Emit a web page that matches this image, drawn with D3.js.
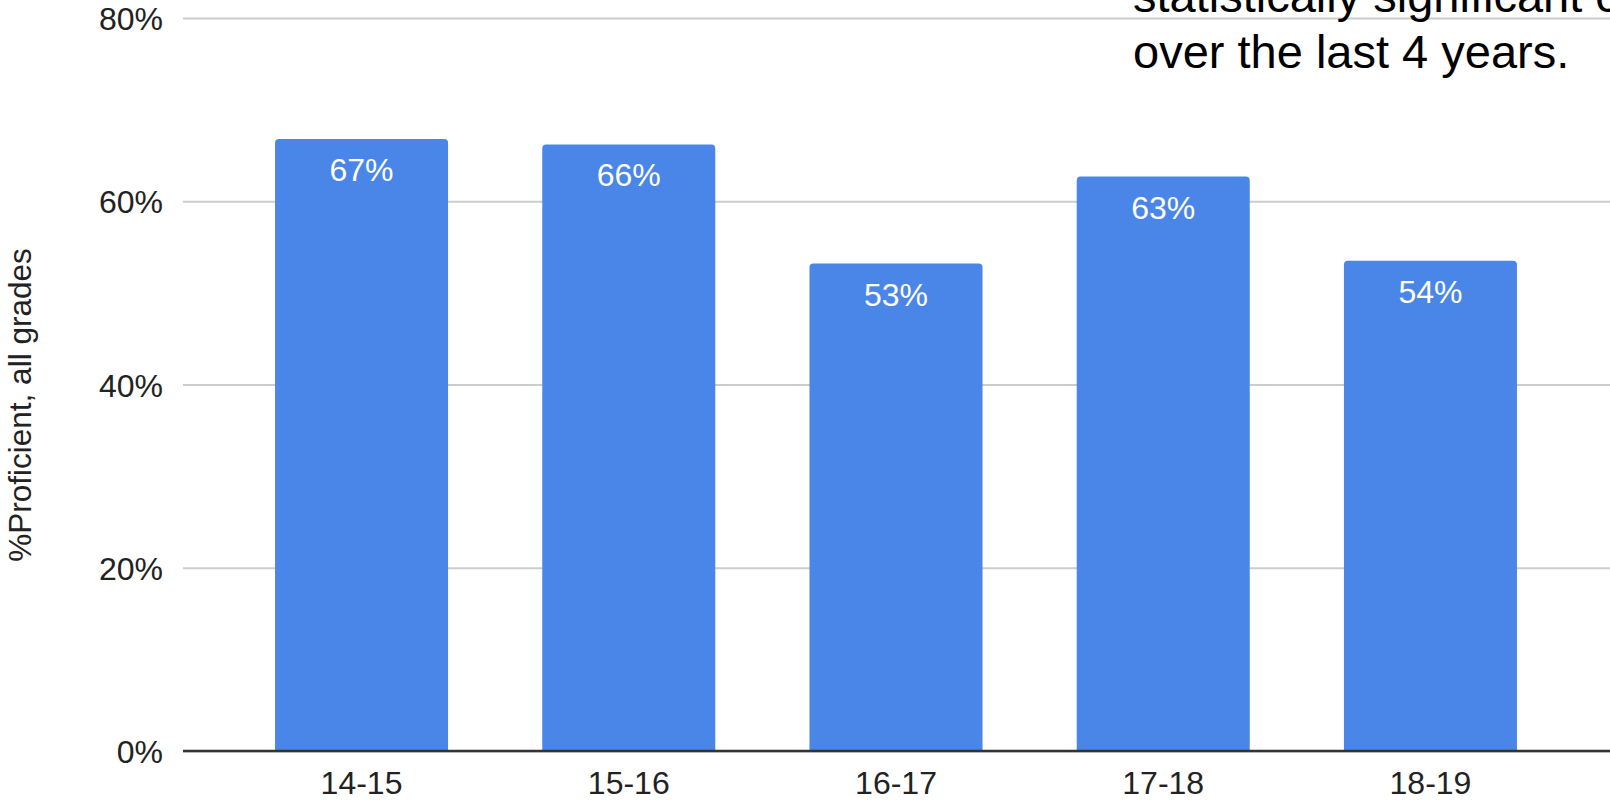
<!DOCTYPE html>
<html>
<head>
<meta charset="utf-8">
<script src="https://cdn.jsdelivr.net/npm/d3@7"></script>
<style>
  body { margin: 0; background: #fff; }
  svg { display: block; font-family: "Liberation Sans", Arial, sans-serif; }
</style>
</head>
<body>
<script>
    // data
    let years = ["14-15", "15-16", "16-17", "17-18", "18-19"];
    let proficient = [66.8, 66.2, 53.2, 62.7, 53.5];
    let yTicks = [0, 20, 40, 60, 80];
    let yTitle = "%Proficient, all grades";
    let noteLines = ["statistically significant change", "over the last 4 years."];

    let width = 1610,
        height = 802;

    let plotLeft = 183,
        plotRight = 1610,
        plotTop = 18,
        plotBottom = 751;

    let svg = d3.select("body")
        .append("svg")
        .attr("width", width)
        .attr("height", height);

    let y = d3.scaleLinear()
        .domain([0, 80])
        .range([plotBottom, plotTop]);

    // bands sit a bit right of the axis start, chart is cut on the right
    let x = d3.scaleBand()
        .domain(years)
        .range([228, 1564])
        .paddingInner(0.3525)
        .paddingOuter(0.176);

    // gridlines + y tick labels
    let yAxis = svg.append("g")
        .attr("transform", "translate(" + plotLeft + ",0)")
        .call(d3.axisLeft(y)
            .tickValues(yTicks)
            .tickFormat(function(d){ return d + "%"; })
            .tickSizeInner(-(plotRight - plotLeft))
            .tickSizeOuter(0)
            .tickPadding(20));

    yAxis.select(".domain").remove();
    yAxis.selectAll(".tick line")
        .attr("stroke", "#cccccc")
        .attr("stroke-width", 2);
    yAxis.selectAll(".tick text")
        .attr("fill", "#222")
        .style("font-size", "32px")
        .attr("dy", "0.36em");

    // bars with slightly rounded top corners
    let r = 4;
    function barPath(d, i){
        let x0 = x(years[i]),
            x1 = x0 + x.bandwidth(),
            y0 = y(d),
            y1 = y(0);
        return "M" + x0 + "," + y1 +
            "L" + x0 + "," + (y0 + r) +
            "Q" + x0 + "," + y0 + " " + (x0 + r) + "," + y0 +
            "L" + (x1 - r) + "," + y0 +
            "Q" + x1 + "," + y0 + " " + x1 + "," + (y0 + r) +
            "L" + x1 + "," + y1 + "Z";
    }

    svg.selectAll(".bar")
        .data(proficient)
        .enter()
        .append("path")
        .attr("class", "bar")
        .attr("d", barPath)
        .attr("fill", "#4a86e8");

    svg.selectAll(".bar_label")
        .data(proficient)
        .enter()
        .append("text")
        .attr("class", "bar_label")
        .attr("x", function(d, i){ return x(years[i]) + x.bandwidth() / 2; })
        .attr("y", function(d){ return y(d) + 42; })
        .attr("text-anchor", "middle")
        .attr("fill", "#ffffff")
        .style("font-size", "32px")
        .text(function(d){ return Math.round(d) + "%"; });

    // baseline + category labels
    let xAxis = svg.append("g")
        .attr("transform", "translate(0," + plotBottom + ")")
        .call(d3.axisBottom(x).tickSize(0).tickPadding(20));

    xAxis.select(".domain").remove();
    xAxis.selectAll(".tick text")
        .attr("fill", "#222")
        .style("font-size", "32px");

    svg.append("line")
        .attr("x1", plotLeft)
        .attr("x2", plotRight)
        .attr("y1", plotBottom)
        .attr("y2", plotBottom)
        .attr("stroke", "#333")
        .attr("stroke-width", 2.5);

    // y axis title
    svg.append("text")
        .attr("transform", "translate(31," + 405 + ") rotate(-90)")
        .attr("text-anchor", "middle")
        .attr("fill", "#222")
        .style("font-size", "31.5px")
        .text(yTitle);

    // note text at the top right (cut by the edge)
    svg.selectAll(".note")
        .data(noteLines)
        .enter()
        .append("text")
        .attr("class", "note")
        .attr("x", 1133)
        .attr("y", function(d, i){ return 12 + i * 56; })
        .attr("fill", "#000")
        .style("font-size", "47px")
        .text(function(d){ return d; });
</script>
</body>
</html>
